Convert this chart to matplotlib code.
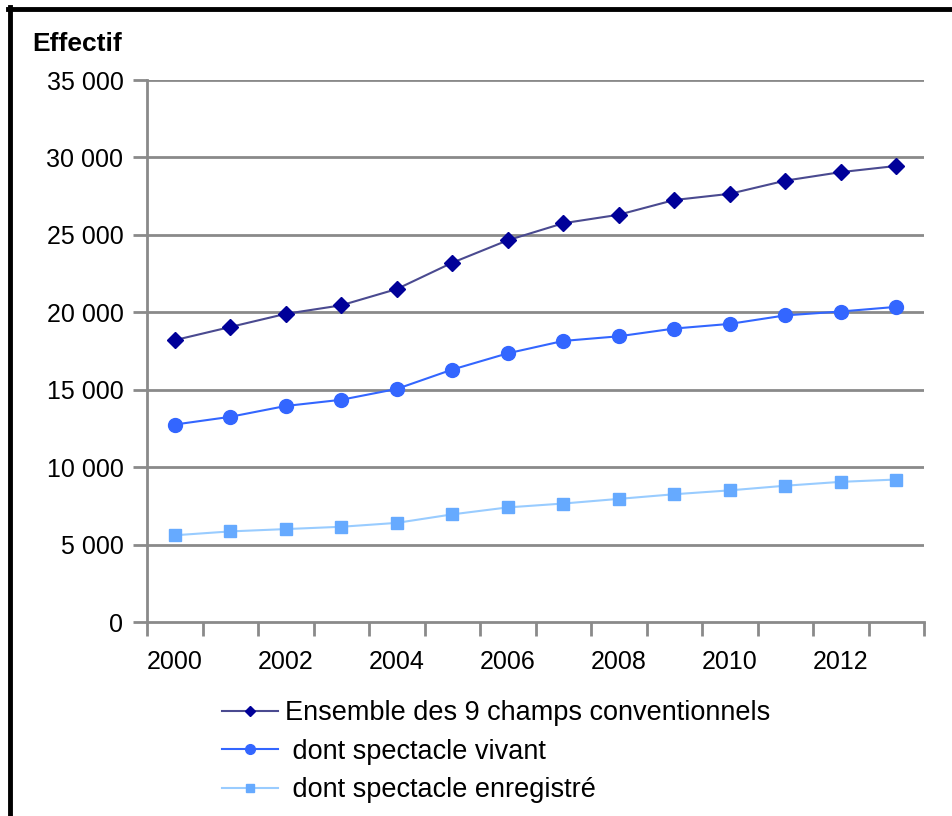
import numpy as np
import matplotlib.pyplot as plt
from matplotlib.lines import Line2D

plt.rcParams['font.family'] = ['Liberation Sans', 'DejaVu Sans']

years = list(range(2000, 2014))
ensemble = [18200, 19050, 19900, 20450, 21500, 23200, 24650, 25750, 26300, 27250, 27650, 28500, 29050, 29450]
vivant = [12750, 13250, 13950, 14350, 15050, 16300, 17350, 18150, 18450, 18950, 19250, 19800, 20050, 20350]
enregistre = [5600, 5850, 6000, 6150, 6400, 6950, 7400, 7650, 7950, 8250, 8500, 8800, 9050, 9200]
labels = ['Ensemble des 9 champs conventionnels', ' dont spectacle vivant', ' dont spectacle enregistré']
yticks = [0, 5000, 10000, 15000, 20000, 25000, 30000, 35000]
xlabels = [2000, 2002, 2004, 2006, 2008, 2010, 2012]

fig = plt.figure(figsize=(9.52, 8.16), dpi=100)
ax = fig.add_axes([147/952, 1-622/816, (924-147)/952, (622-80)/816])

grid_c = '#8a8a8a'
for v in yticks[1:]:
    ax.axhline(v, color=grid_c, lw=2, zorder=1)

ax.plot(years, ensemble, color='#4a4a90', lw=1.5, marker='D', ms=8,
        mfc='#000099', mec='#000099', zorder=3, label=labels[0])
ax.plot(years, vivant, color='#3366ff', lw=1.5, marker='o', ms=10,
        mfc='#3366ff', mec='#3366ff', zorder=3, label=labels[1])
ax.plot(years, enregistre, color='#99ccff', lw=1.5, marker='s', ms=8,
        mfc='#66aaff', mec='#66aaff', zorder=3, label=labels[2])

ax.set_xlim(1999.5, 2013.5)
ax.set_ylim(0, 35000)
ax.set_xticks(np.arange(1999.5, 2014, 1))
ax.set_xticklabels([])
ax.set_xticks(xlabels, minor=True)
ax.set_xticklabels([str(y) for y in xlabels], minor=True, fontsize=18)
ax.tick_params(axis='x', which='major', length=10, width=2, color=grid_c, direction='out')
ax.tick_params(axis='x', which='minor', length=0, pad=20)
ax.set_yticks(yticks)
ax.set_yticklabels(['{:,}'.format(v).replace(',', ' ') for v in yticks], fontsize=18)
ax.tick_params(axis='y', length=10, width=2, color=grid_c, pad=7)

for s in ['top', 'right']:
    ax.spines[s].set_visible(False)
for s in ['left', 'bottom']:
    ax.spines[s].set_color(grid_c)
    ax.spines[s].set_linewidth(2)

fig.text(32/952, 1-44/816, 'Effectif', fontsize=19, fontweight='bold', va='center', ha='left')

fig.legend(loc='upper left', bbox_to_anchor=(222/952, 1-700/816), frameon=False,
           fontsize=19.5, handlelength=2.05, handletextpad=0.27, labelspacing=0.47,
           borderpad=0, borderaxespad=0, markerscale=0.7)

# frame around the figure (top and left visible)
fig.add_artist(Line2D([8/952, 1], [1-8.5/816, 1-8.5/816], color='black', lw=3.5, transform=fig.transFigure))
fig.add_artist(Line2D([9.5/952, 9.5/952], [0, 1-7/816], color='black', lw=3.5, transform=fig.transFigure))

fig.savefig('out.png', dpi=100)
